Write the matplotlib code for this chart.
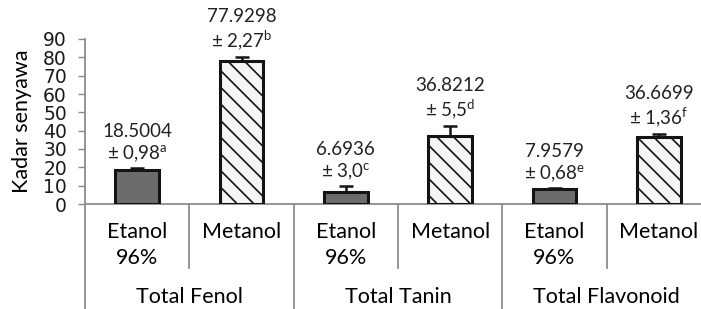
import matplotlib.pyplot as plt
import numpy as np

plt.rcParams['font.family'] = ['Lato', 'DejaVu Sans']
plt.rcParams['mathtext.fontset'] = 'custom'
plt.rcParams['mathtext.rm'] = 'Lato'
plt.rcParams['hatch.color'] = '#a0a0a0'
plt.rcParams['hatch.linewidth'] = 1.2

# data
groups = ['Total Fenol', 'Total Tanin', 'Total Flavonoid']
solvents = [['Etanol', '96%'], ['Metanol']]
values = [18.5004, 77.9298, 6.6936, 36.8212, 7.9579, 36.6699]
errors = [0.98, 2.27, 3.0, 5.5, 0.68, 1.36]
err_text = ['0,98', '2,27', '3,0', '5,5', '0,68', '1,36']
letters = ['a', 'b', 'c', 'd', 'e', 'f']
yticks = [0, 10, 20, 30, 40, 50, 60, 70, 80, 90]

W, H = 701, 309
fig = plt.figure(figsize=(W / 100, H / 100), dpi=100)
fig.set_facecolor('white')

# axes run past the right edge, like the cropped original
x0, x1, ytop, ybot = 85, 711, 39, 204
ax = fig.add_axes([x0 / W, (H - ybot) / H, (x1 - x0) / W, (ybot - ytop) / H])
hpx = ybot - ytop

x = np.arange(len(values)) + 0.5
for i in range(len(values)):
    if i % 2 == 0:
        ax.bar(x[i], values[i], width=0.42, color='#6c6c6c',
               edgecolor='#141414', linewidth=2.2, zorder=3)
    else:
        ax.bar(x[i], values[i], width=0.42, color='#f5f5f5',
               edgecolor='#141414', linewidth=2.2, hatch='\\\\', zorder=3)
    ax.errorbar(x[i], values[i], yerr=[[0], [errors[i]]], color='#141414',
                capsize=5, elinewidth=1.8, capthick=1.8, zorder=4)
    label = '%.4f\n± %s$^{\\mathrm{%s}}$' % (values[i], err_text[i], letters[i])
    ax.annotate(label, (x[i], values[i] + errors[i]), xytext=(0, 3),
                textcoords='offset points', ha='center', va='bottom',
                fontsize=13.5, linespacing=1.2, color='#222222')

ax.set_xlim(0, 6)
ax.set_ylim(0, 90)
ax.set_yticks(yticks)
ax.set_xticks([])
ax.tick_params(axis='y', length=5, width=1, color='#888888', pad=8,
               labelsize=13.5)
for t in ax.get_yticklabels():
    t.set_family('DejaVu Sans')
    t.set_color('#1a1a1a')

for s in ['top', 'right']:
    ax.spines[s].set_visible(False)
for s in ['left', 'bottom']:
    ax.spines[s].set_color('#8c8c8c')
    ax.spines[s].set_linewidth(1.3)

ax.set_ylabel('Kadar senyawa', fontsize=15.5, va='center')
ax.yaxis.set_label_coords(-(85 - 22) / (x1 - x0), 0.5)

# category axis drawn below
tr = ax.get_xaxis_transform()
for i in range(len(values)):
    lines = solvents[i % 2]
    for j in range(len(lines)):
        ax.text(x[i], -(232 + 26 * j - ybot) / hpx, lines[j], transform=tr,
                ha='center', va='center', fontsize=15.5)
for g in range(len(groups)):
    ax.text(2 * g + 1, -(297 - ybot) / hpx, groups[g], transform=tr,
            ha='center', va='center', fontsize=15.5)
for k in range(7):
    end = 312 if k % 2 == 0 else 268
    ax.plot([k, k], [0, -(end - ybot) / hpx], transform=tr, color='#8c8c8c',
            lw=1.3, clip_on=False)

fig.savefig('out.png', dpi=100)
